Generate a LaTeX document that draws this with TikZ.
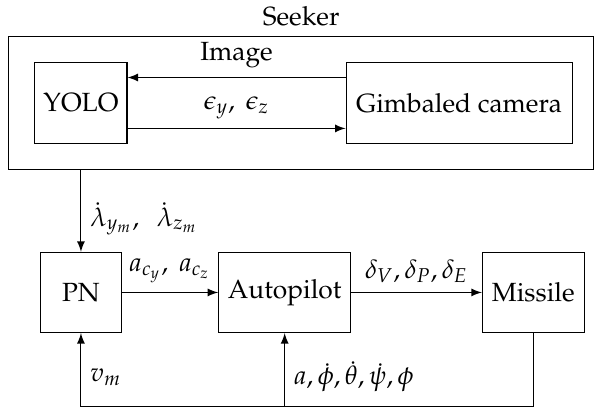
\documentclass[tikz,border=0pt]{standalone}
\usepackage[T1]{fontenc}
\usepackage{mathpazo}
\usetikzlibrary{positioning}

\begin{document}
\begin{tikzpicture}[>=latex]

% Stiler for blokker
\tikzstyle{blokk} 	=	[rectangle, draw, text centered, inner sep=0pt, minimum height=1.07cm]

	\useasboundingbox (-1.081,-1.529) rectangle (6.85,3.905);

	% Nedre sloyfe
	\node[blokk, minimum width=1.07cm]	(pn)																{PN};
	\node[blokk, minimum width=1.76cm]	(autopilot)	[right of=pn, node distance=2.72cm]			{Autopilot};
	\node[blokk, minimum width=1.36cm]	(missile)	[right of=autopilot, node distance=3.32cm]	{Missile};

	% Seeker
	\node[blokk, minimum width=1.23cm]	(yolo)			[above of=pn, node distance=2.53cm]		{YOLO};
	\node[blokk, minimum width=3.02cm]	(gimbal_kamera)	[right of=yolo, node distance=5.05cm]	{Gimbaled camera};
	\node[rectangle, draw, minimum width=7.82cm, minimum height=1.78cm] (seeker_boks) [right of=yolo, node distance=2.94cm] {};
	\node (seeker_tekst) [above] at (seeker_boks.north) {Seeker};

	\draw[->] ([yshift=0.34cm]gimbal_kamera.west) -- node[above] (bilde_tekst) {Image} ([yshift=0.34cm]yolo.east); % Bilde
	\draw[->] ([yshift=-0.34cm]yolo.east) -- node[above] (feil_tekst) {$\epsilon_y,\ \epsilon_z$} ([yshift=-0.34cm]gimbal_kamera.west); % Feil

	% Signaler
	\draw[->] (pn.north |- seeker_boks.south) -- node[right, pos=0.6] (lambda_tekst) {$\dot{\lambda}_{y_m},\ \ \dot{\lambda}_{z_m}$} (pn.north);
	\draw[->] (pn) -- node[above] (ac_tekst) {$a_{c_y},\ a_{c_z}$} (autopilot);
	\draw[->] (autopilot) -- node[above] (delta_tekst) {$\delta_V, \delta_P, \delta_E$} (missile);

	% Tilbakekobling
	\coordinate (bunn) at ([yshift=-1.52cm]pn.center);
	\draw[->] (missile.south) |- (bunn) -- node[right, pos=0.4] (vm_tekst) {$v_m$} (pn.south);
	\draw[->] (autopilot.south |- bunn) -- node[right, pos=0.4] (tilstand_tekst) {$a, \dot{\phi}, \dot{\theta}, \dot{\psi}, \phi$} (autopilot.south);

\end{tikzpicture}
\end{document}
